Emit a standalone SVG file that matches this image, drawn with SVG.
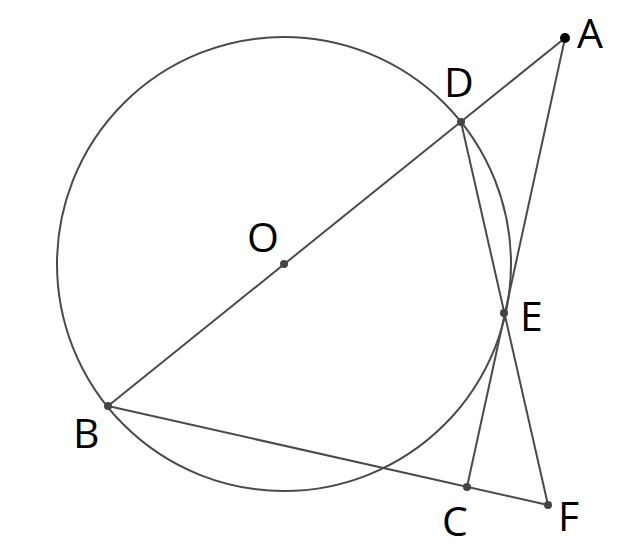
<svg xmlns="http://www.w3.org/2000/svg" width="618" height="550" viewBox="0 0 618 550">
<style>
.ln{stroke:#4a4a4a;stroke-width:2;fill:none}
.pt{fill:#444}
.lb{font-family:"Open Sans","DejaVu Sans",sans-serif;font-size:41px;fill:#000}
</style>
<rect width="618" height="550" fill="#fff"/>
<g id="connectors">
<circle class="ln" cx="284" cy="264" r="227"/>
<line class="ln" x1="565" y1="38" x2="108" y2="406"/>
<line class="ln" x1="565" y1="38" x2="467" y2="487"/>
<line class="ln" x1="461" y1="122" x2="548" y2="505"/>
<line class="ln" x1="108" y1="406" x2="548" y2="505"/>
</g>
<g id="A"><circle cx="565" cy="38" r="5" fill="#000"/><text class="lb" x="577" y="48">A</text></g>
<g id="D"><circle class="pt" cx="461" cy="122" r="4"/><text class="lb" x="444" y="97">D</text></g>
<g id="O"><circle class="pt" cx="284" cy="264" r="4"/><text class="lb" x="247" y="252">O</text></g>
<g id="B"><circle class="pt" cx="108" cy="406" r="4"/><text class="lb" x="73" y="448">B</text></g>
<g id="E"><circle class="pt" cx="504" cy="313" r="4"/><text class="lb" x="520" y="331">E</text></g>
<g id="C"><circle class="pt" cx="467" cy="487" r="4"/><text class="lb" x="442" y="536">C</text></g>
<g id="F"><circle class="pt" cx="548" cy="505" r="4"/><text class="lb" x="558" y="531">F</text></g>
</svg>
